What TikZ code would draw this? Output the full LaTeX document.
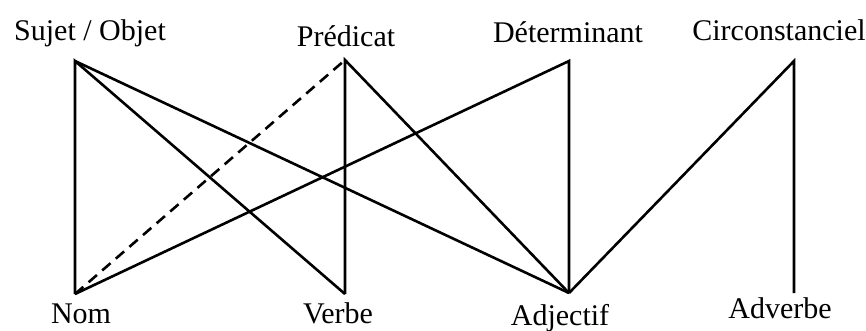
\documentclass[tikz,border=0pt]{standalone}
\usepackage{fontspec}
\setmainfont{Liberation Serif}
\begin{document}
\begin{tikzpicture}[x=1pt,y=-1pt,
  lbl/.style={anchor=base,inner sep=0pt,font=\fontsize{30}{34}\selectfont},
  link/.style={line width=2.6pt,line join=miter},
  dlink/.style={link,dash pattern=on 11pt off 7pt}]
\useasboundingbox (0,0) rectangle (866,330);
% label nodes
\node[lbl] (tS) at (90,40) {Sujet / Objet};
\node[lbl] (tP) at (346,46) {Prédicat};
\node[lbl] (tD) at (568,42) {Déterminant};
\node[lbl] (tC) at (779,40) {Circonstanciel};
\node[lbl] (tN) at (81,323) {Nom};
\node[lbl] (tV) at (338,323) {Verbe};
\node[lbl] (tA) at (560,325) {Adjectif};
\node[lbl] (tAv) at (780,318) {Adverbe};
% vertices
\coordinate (S) at (75,61);
\coordinate (P) at (345,60);
\coordinate (D) at (569,61);
\coordinate (C) at (794,61);
\coordinate (N) at (75,294);
\coordinate (V) at (345,294);
\coordinate (A) at (569,293);
\coordinate (Av) at (794,293);
% connectors
\draw[link] (N) -- (S) -- (V);
\draw[link] (S) -- (A);
\draw[dlink] (N) -- (P);
\draw[link] (V) -- (P) -- (A);
\draw[link] (N) -- (D) -- (A);
\draw[link] (A) -- (C) -- (Av);
\end{tikzpicture}
\end{document}
